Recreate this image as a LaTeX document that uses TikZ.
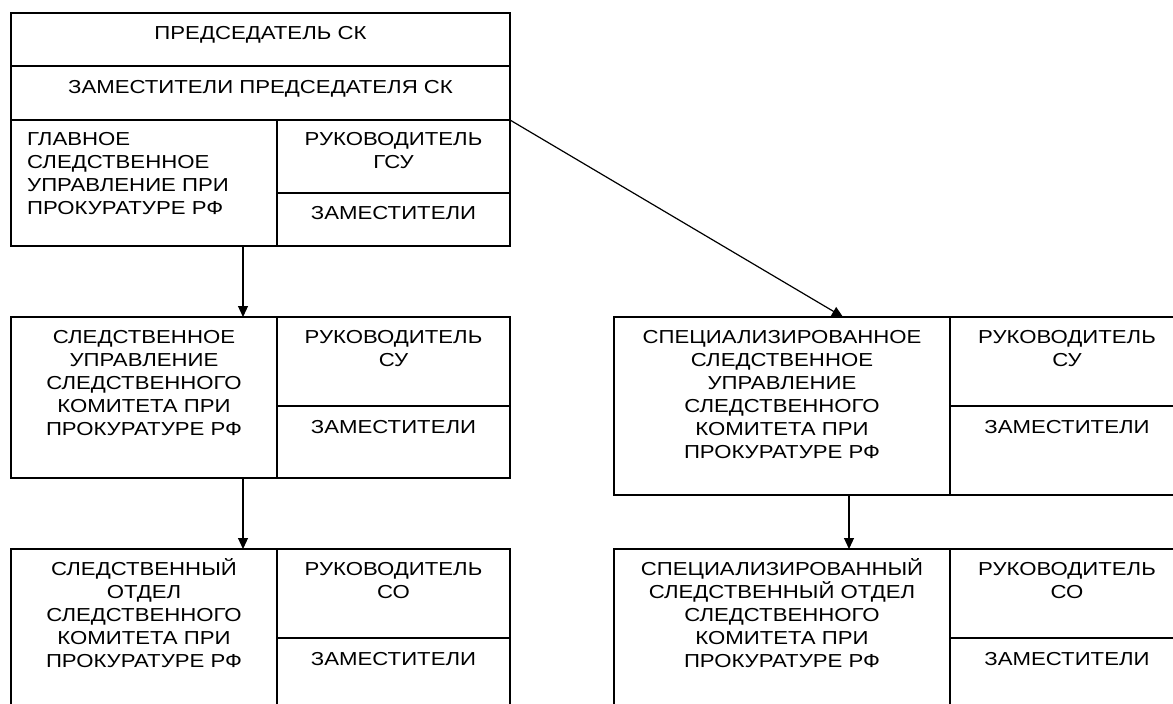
\documentclass[tikz,border=0pt]{standalone}
\usepackage{fontspec}
\setmainfont{Liberation Sans}[FakeStretch=1.18]
\usetikzlibrary{arrows.meta}
\tikzset{
  cell/.style={draw, line width=1.3pt, rectangle, inner sep=0pt, outer sep=0pt, anchor=north west},
  lbl/.style={anchor=north, inner sep=0pt, align=center, font=\fontsize{18.8}{23}\selectfont},
  lbll/.style={anchor=north west, inner sep=0pt, align=left, font=\fontsize{18.8}{23}\selectfont},
  arr/.style={-{Triangle[length=11pt,width=10pt]}, line width=1.2pt}
}
\newcommand{\fs}{\rule{0pt}{18pt}}
\begin{document}
\begin{tikzpicture}[x=1pt,y=-1pt]
\useasboundingbox (0,0) rectangle (1173,704);
\clip (0,0) rectangle (1173,704);
% top block
\node[cell, minimum width=499pt, minimum height=53pt] (pred) at (11,13) {};
\node[cell, minimum width=499pt, minimum height=54pt] (zam) at (11,66) {};
\node[cell, minimum width=266pt, minimum height=126pt] (gsu) at (11,120) {};
\node[cell, minimum width=233pt, minimum height=73pt] (rgsu) at (277,120) {};
\node[cell, minimum width=233pt, minimum height=53pt] (zgsu) at (277,193) {};
% middle left
\node[cell, minimum width=266pt, minimum height=161pt] (su) at (11,317) {};
\node[cell, minimum width=233pt, minimum height=89pt] (rsu) at (277,317) {};
\node[cell, minimum width=233pt, minimum height=72pt] (zsu) at (277,406) {};
% bottom left
\node[cell, minimum width=266pt, minimum height=170pt] (so) at (11,549) {};
\node[cell, minimum width=233pt, minimum height=89pt] (rso) at (277,549) {};
\node[cell, minimum width=233pt, minimum height=81pt] (zso) at (277,638) {};
% middle right
\node[cell, minimum width=336pt, minimum height=178pt] (ssu) at (614,317) {};
\node[cell, minimum width=234pt, minimum height=89pt] (rssu) at (950,317) {};
\node[cell, minimum width=234pt, minimum height=89pt] (zssu) at (950,406) {};
% bottom right
\node[cell, minimum width=336pt, minimum height=170pt] (sso) at (614,549) {};
\node[cell, minimum width=234pt, minimum height=89pt] (rsso) at (950,549) {};
\node[cell, minimum width=234pt, minimum height=81pt] (zsso) at (950,638) {};

% texts
\node[lbl] (t-pred) at ([yshift=-8pt]pred.north) {\fs ПРЕДСЕДАТЕЛЬ СК};
\node[lbl] (t-zam) at ([yshift=-9pt]zam.north) {\fs ЗАМЕСТИТЕЛИ ПРЕДСЕДАТЕЛЯ СК};
\node[lbll] (t-gsu) at ([xshift=16pt,yshift=-7pt]gsu.north west) {\fs ГЛАВНОЕ\\СЛЕДСТВЕННОЕ\\УПРАВЛЕНИЕ ПРИ\\ПРОКУРАТУРЕ РФ};
\node[lbl] (t-rgsu) at ([yshift=-7pt]rgsu.north) {\fs РУКОВОДИТЕЛЬ\\ГСУ};
\node[lbl] (t-zgsu) at ([yshift=-8pt]zgsu.north) {\fs ЗАМЕСТИТЕЛИ};

\node[lbl] (t-su) at ([yshift=-8pt]su.north) {\fs СЛЕДСТВЕННОЕ\\УПРАВЛЕНИЕ\\СЛЕДСТВЕННОГО\\КОМИТЕТА ПРИ\\ПРОКУРАТУРЕ РФ};
\node[lbl] (t-rsu) at ([yshift=-8pt]rsu.north) {\fs РУКОВОДИТЕЛЬ\\СУ};
\node[lbl] (t-zsu) at ([yshift=-9pt]zsu.north) {\fs ЗАМЕСТИТЕЛИ};

\node[lbl] (t-so) at ([yshift=-8pt]so.north) {\fs СЛЕДСТВЕННЫЙ\\ОТДЕЛ\\СЛЕДСТВЕННОГО\\КОМИТЕТА ПРИ\\ПРОКУРАТУРЕ РФ};
\node[lbl] (t-rso) at ([yshift=-8pt]rso.north) {\fs РУКОВОДИТЕЛЬ\\СО};
\node[lbl] (t-zso) at ([yshift=-9pt]zso.north) {\fs ЗАМЕСТИТЕЛИ};

\node[lbl] (t-ssu) at ([yshift=-8pt]ssu.north) {\fs СПЕЦИАЛИЗИРОВАННОЕ\\СЛЕДСТВЕННОЕ\\УПРАВЛЕНИЕ\\СЛЕДСТВЕННОГО\\КОМИТЕТА ПРИ\\ПРОКУРАТУРЕ РФ};
\node[lbl] (t-rssu) at ([yshift=-8pt]rssu.north) {\fs РУКОВОДИТЕЛЬ\\СУ};
\node[lbl] (t-zssu) at ([yshift=-9pt]zssu.north) {\fs ЗАМЕСТИТЕЛИ};

\node[lbl] (t-sso) at ([yshift=-8pt]sso.north) {\fs СПЕЦИАЛИЗИРОВАННЫЙ\\СЛЕДСТВЕННЫЙ ОТДЕЛ\\СЛЕДСТВЕННОГО\\КОМИТЕТА ПРИ\\ПРОКУРАТУРЕ РФ};
\node[lbl] (t-rsso) at ([yshift=-8pt]rsso.north) {\fs РУКОВОДИТЕЛЬ\\СО};
\node[lbl] (t-zsso) at ([yshift=-9pt]zsso.north) {\fs ЗАМЕСТИТЕЛИ};

% connectors
\coordinate (ax) at (243,0);
\coordinate (bx) at (849,0);
\coordinate (cx) at (843,0);
\draw[arr] (gsu.south -| ax) -- (su.north -| ax);
\draw[arr] (su.south -| ax) -- (so.north -| ax);
\draw[arr] (ssu.south -| bx) -- (sso.north -| bx);
\draw[arr] (zam.south east) -- (ssu.north -| cx);
\end{tikzpicture}
\end{document}
